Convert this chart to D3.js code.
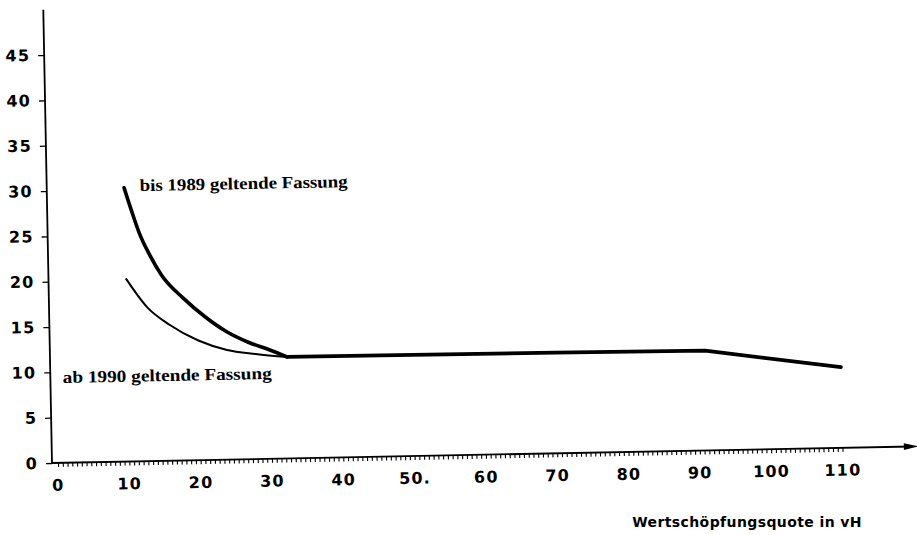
<!doctype html>
<html>
<head>
    <meta charset="utf-8">
    <title>Wertschoepfungsquote</title>
    <script type="text/javascript" src="https://d3js.org/d3.v7.min.js"></script>
    <style>
        body { margin: 0; background: #fff; }
        svg { display: block; }
    </style>
</head>
<body>
<script type="text/javascript">

    // tick values / labels
    var xTicks = [0, 10, 20, 30, 40, 50, 60, 70, 80, 90, 100, 110];
    var xTickLabels = ["0", "10", "20", "30", "40", "50.", "60", "70", "80", "90", "100", "110"];
    var yTicks = [0, 5, 10, 15, 20, 25, 30, 35, 40, 45];

    // "bis 1989 geltende Fassung" (thick line, curved part up to ~32)
    var bisX = [10, 11, 12, 13.5, 15, 18, 21, 24, 27, 30, 32.4];
    var bisY = [30.2, 27.6, 25.2, 22.6, 20.5, 17.9, 15.8, 14.1, 12.9, 12.0, 11.2];

    // common straight part of both versions from ~32 to 110
    var flatX = [32.4, 50, 70, 91, 110];
    var flatY = [11.2, 11.15, 11.1, 11.0, 8.9];

    // "ab 1990 geltende Fassung" (thin line, joins at ~32)
    var abX = [10, 13, 16, 20, 24, 28, 32.4];
    var abY = [20.2, 16.9, 15.0, 13.2, 12.1, 11.6, 11.2];

    var width = 917, height = 535;

    var svg = d3.select("body")
        .append("svg")
        .attr("width", width)
        .attr("height", height);

    // the scan is a little tilted, so the whole plot is turned by ~1 degree
    var g = svg.append("g")
        .attr("transform", "translate(52,463) rotate(-1.1)");

    var x = d3.scaleLinear().domain([0, 110]).range([6, 790.6]);
    var y = d3.scaleLinear().domain([0, 45]).range([0, -408]);

    // x axis: line with arrow
    g.append("line")
        .attr("x1", 0).attr("y1", 0)
        .attr("x2", 860).attr("y2", 0)
        .attr("stroke", "#000")
        .attr("stroke-width", 1.8);

    g.append("path")
        .attr("d", "M852,-3.4L867,0L852,3.4Z")
        .attr("fill", "#000");

    // dense small ticks under the x axis
    var minor = d3.range(0, 110.01, 2 / 3);
    var xAxis = g.append("g")
        .call(d3.axisBottom(x).tickValues(minor).tickSize(4).tickFormat(""));
    xAxis.select(".domain").remove();
    xAxis.selectAll(".tick line").attr("stroke", "#000").attr("stroke-width", 1.1);

    g.selectAll(".xlab")
        .data(xTicks)
        .enter()
        .append("text")
        .attr("class", "xlab")
        .attr("x", function(d) { return x(d); })
        .attr("y", 22)
        .attr("dy", "0.36em")
        .attr("text-anchor", "middle")
        .attr("font-family", "DejaVu Sans")
        .attr("font-weight", "bold")
        .attr("font-size", 16)
        .attr("letter-spacing", 1.2)
        .text(function(d, i) { return xTickLabels[i]; });

    // y axis
    g.append("line")
        .attr("x1", 0).attr("y1", 0)
        .attr("x2", 0).attr("y2", y(50))
        .attr("stroke", "#000")
        .attr("stroke-width", 1.8);

    var yAxis = g.append("g")
        .call(d3.axisLeft(y).tickValues(yTicks).tickSize(6).tickPadding(8));
    yAxis.select(".domain").remove();
    yAxis.selectAll(".tick line").attr("stroke", "#000").attr("stroke-width", 1.3);
    yAxis.selectAll(".tick text")
        .attr("fill", "#000")
        .attr("font-family", "DejaVu Sans")
        .attr("font-weight", "bold")
        .attr("font-size", 16)
        .attr("letter-spacing", 1.2);

    // lines
    function pairs(xs, ys) {
        return xs.map(function(d, i) { return [d, ys[i]]; });
    }

    var curved = d3.line()
        .x(function(d) { return x(d[0]); })
        .y(function(d) { return y(d[1]); })
        .curve(d3.curveMonotoneX);

    var straight = d3.line()
        .x(function(d) { return x(d[0]); })
        .y(function(d) { return y(d[1]); });

    g.append("path")
        .attr("d", curved(pairs(abX, abY)))
        .attr("fill", "none")
        .attr("stroke", "#000")
        .attr("stroke-width", 2);

    g.append("path")
        .attr("d", curved(pairs(bisX, bisY)))
        .attr("fill", "none")
        .attr("stroke", "#000")
        .attr("stroke-width", 3.6)
        .attr("stroke-linecap", "round");

    g.append("path")
        .attr("d", straight(pairs(flatX, flatY)))
        .attr("fill", "none")
        .attr("stroke", "#000")
        .attr("stroke-width", 3.8)
        .attr("stroke-linejoin", "round")
        .attr("stroke-linecap", "round");

    // labels of the two versions
    g.append("text")
        .attr("x", x(12.2))
        .attr("y", y(29.8))
        .attr("font-family", "Liberation Serif")
        .attr("font-weight", "bold")
        .attr("font-size", 17)
        .attr("textLength", 208)
        .attr("lengthAdjust", "spacingAndGlyphs")
        .text("bis 1989 geltende Fassung");

    g.append("text")
        .attr("x", x(0.9))
        .attr("y", y(8.8))
        .attr("font-family", "Liberation Serif")
        .attr("font-weight", "bold")
        .attr("font-size", 17)
        .attr("textLength", 209)
        .attr("lengthAdjust", "spacingAndGlyphs")
        .text("ab 1990 geltende Fassung");

    // axis title
    svg.append("text")
        .attr("x", 862)
        .attr("y", 527)
        .attr("text-anchor", "end")
        .attr("font-family", "DejaVu Sans")
        .attr("font-weight", "bold")
        .attr("font-size", 14)
        .attr("letter-spacing", 0.4)
        .text("Wertschöpfungsquote in vH");

</script>
</body>
</html>
